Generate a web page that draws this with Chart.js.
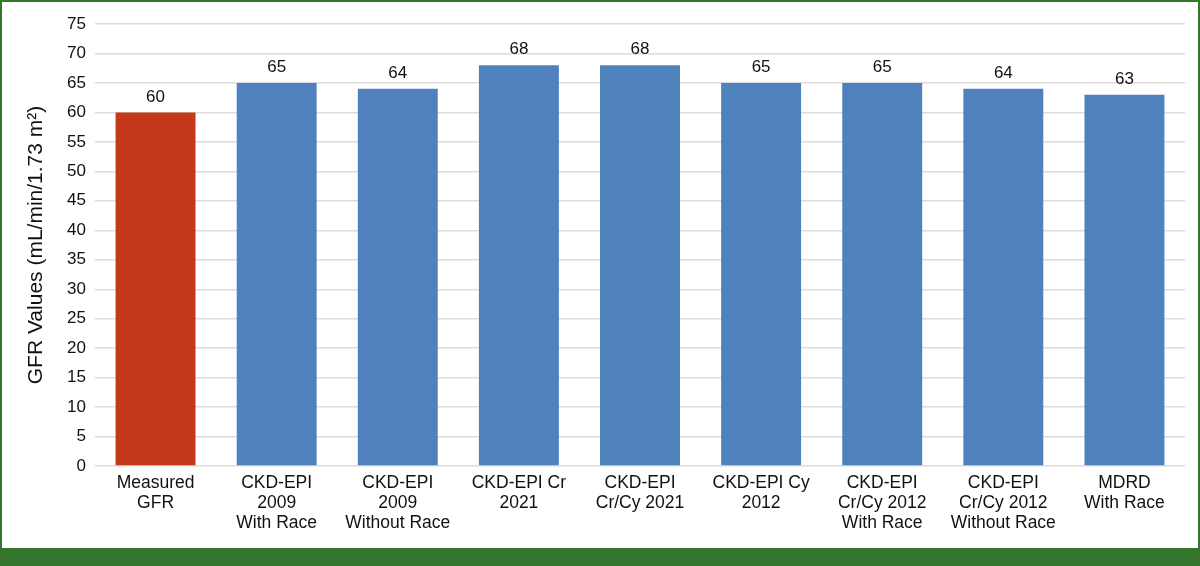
<!DOCTYPE html>
<html>
<head>
<meta charset="utf-8">
<script src="https://cdn.jsdelivr.net/npm/chart.js@4/dist/chart.umd.min.js"></script>
<style>
  body { margin: 0; }
  .frame { width: 1200px; height: 566px; background: #35762f; position: relative; }
  .inner { position: absolute; left: 2px; top: 2px; width: 1196px; height: 546px; background: #fff; }
  canvas { display: block; }
</style>
</head>
<body>
<div class="frame">
  <div class="inner"><canvas id="myChart" width="1196" height="546"></canvas></div>
</div>
<script>
const categories = [
  ["Measured", "GFR"],
  ["CKD-EPI", "2009", "With Race"],
  ["CKD-EPI", "2009", "Without Race"],
  ["CKD-EPI Cr", "2021"],
  ["CKD-EPI", "Cr/Cy 2021"],
  ["CKD-EPI Cy", "2012"],
  ["CKD-EPI", "Cr/Cy 2012", "With Race"],
  ["CKD-EPI", "Cr/Cy 2012", "Without Race"],
  ["MDRD", "With Race"],
];
const gfrValues = [60, 65, 64, 68, 68, 65, 65, 64, 63];
const barColors = ["#c4391a", "#4f81bd", "#4f81bd", "#4f81bd", "#4f81bd", "#4f81bd", "#4f81bd", "#4f81bd", "#4f81bd"];

const fontFamily = "'Liberation Sans', Arial, sans-serif";

// draws the value above each bar
const valueLabels = {
  id: "valueLabels",
  afterDatasetsDraw(chart) {
    const ctx = chart.ctx;
    const meta = chart.getDatasetMeta(0);
    ctx.save();
    ctx.font = "17px " + fontFamily;
    ctx.fillStyle = "#111";
    ctx.textAlign = "center";
    ctx.textBaseline = "bottom";
    meta.data.forEach((bar, i) => {
      ctx.fillText(gfrValues[i], bar.x, bar.y - 7);
    });
    ctx.restore();
  },
};

const data = {
  labels: categories,
  datasets: [
    {
      label: "GFR",
      data: gfrValues,
      backgroundColor: barColors,
      borderWidth: 0,
      categoryPercentage: 1,
      barPercentage: 0.66,
    },
  ],
};

const config = {
  type: "bar",
  data,
  plugins: [valueLabels],
  options: {
    responsive: false,
    animation: false,
    layout: { padding: { top: 22, right: 13, left: 0, bottom: 0 } },
    plugins: {
      legend: { display: false },
      tooltip: { enabled: false },
    },
    scales: {
      x: {
        grid: { display: false, drawTicks: false },
        border: { display: false },
        ticks: {
          color: "#111",
          font: { family: fontFamily, size: 17.5, lineHeight: 1.15 },
          padding: 7,
          maxRotation: 0,
          autoSkip: false,
        },
        afterFit(scale) {
          scale.height = 82;
        },
      },
      y: {
        min: 0,
        max: 75,
        ticks: {
          stepSize: 5,
          color: "#111",
          font: { family: fontFamily, size: 17 },
          padding: 9,
        },
        grid: { color: "#dcdcdc", lineWidth: 1.4, drawTicks: false },
        border: { display: false },
        title: {
          display: true,
          text: "GFR Values (mL/min/1.73 m²)",
          color: "#111",
          font: { family: fontFamily, size: 21 },
          padding: { top: 22, bottom: 0 },
        },
        afterFit(scale) {
          scale.width = 93;
        },
      },
    },
  },
};
let myChart = new Chart(document.getElementById("myChart"), config);
</script>
</body>
</html>
